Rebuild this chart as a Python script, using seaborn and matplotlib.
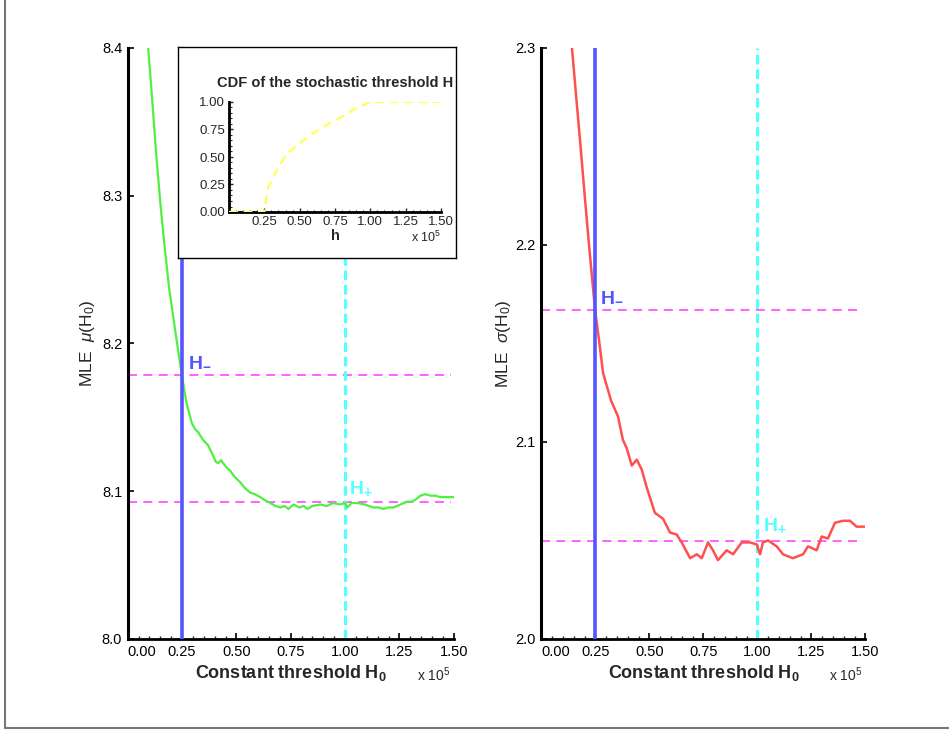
import matplotlib
matplotlib.use("Agg")
import matplotlib.pyplot as plt
from matplotlib.lines import Line2D
from matplotlib.ticker import MultipleLocator
import seaborn as sns

# constant threshold H0 (in units of 1e5) and the MLE of mu
h0_mu = [0.094, 0.11, 0.13, 0.15, 0.17, 0.19, 0.218, 0.25, 0.27, 0.295, 0.31, 0.324,
         0.345, 0.37, 0.39, 0.405, 0.416, 0.43, 0.439, 0.455, 0.471, 0.49, 0.518, 0.54,
         0.564, 0.585, 0.61, 0.63, 0.656, 0.68, 0.702, 0.72, 0.74, 0.762, 0.79, 0.81,
         0.826, 0.85, 0.886, 0.915, 0.946, 0.975, 1.001, 1.01, 1.03, 1.057, 1.09, 1.13,
         1.155, 1.177, 1.2, 1.223, 1.255, 1.287, 1.31, 1.33, 1.347, 1.37, 1.393, 1.415,
         1.439, 1.47, 1.499]
mu_hat = [8.400, 8.370, 8.330, 8.295, 8.265, 8.238, 8.209, 8.178, 8.160, 8.146, 8.142, 8.140,
          8.135, 8.131, 8.125, 8.120, 8.119, 8.121, 8.119, 8.116, 8.114, 8.110, 8.106, 8.102,
          8.099, 8.098, 8.096, 8.094, 8.092, 8.090, 8.089, 8.090, 8.088, 8.091, 8.089, 8.090,
          8.088, 8.090, 8.091, 8.090, 8.092, 8.091, 8.092, 8.089, 8.092, 8.092, 8.091, 8.089,
          8.089, 8.088, 8.089, 8.089, 8.091, 8.093, 8.093, 8.095, 8.097, 8.098, 8.097, 8.097,
          8.096, 8.096, 8.096]

# constant threshold H0 and the MLE of sigma
h0_sigma = [0.141, 0.160, 0.180, 0.200, 0.220, 0.248, 0.266, 0.285, 0.322, 0.354, 0.377, 0.394,
            0.418, 0.441, 0.464, 0.487, 0.525, 0.563, 0.595, 0.626, 0.649, 0.688, 0.719,
            0.742, 0.771, 0.794, 0.817, 0.857, 0.887, 0.927, 0.965, 0.996, 1.012, 1.025,
            1.049, 1.089, 1.118, 1.164, 1.211, 1.234, 1.274, 1.297, 1.326, 1.359, 1.396,
            1.428, 1.459, 1.506]
sigma_hat = [2.300, 2.276, 2.251, 2.225, 2.200, 2.167, 2.152, 2.135, 2.121, 2.113, 2.101, 2.097,
             2.088, 2.091, 2.086, 2.077, 2.064, 2.061, 2.054, 2.053, 2.049, 2.041, 2.043,
             2.041, 2.049, 2.045, 2.040, 2.045, 2.043, 2.049, 2.049, 2.048, 2.043, 2.049,
             2.050, 2.047, 2.043, 2.041, 2.043, 2.047, 2.045, 2.052, 2.051, 2.059, 2.060,
             2.060, 2.057, 2.057]

# CDF of the stochastic threshold H
cdf_h = [0.0, 0.25, 0.26, 0.279, 0.338, 0.409, 0.527, 0.645, 0.764, 0.882, 0.988, 1.0, 1.5]
cdf_val = [0.0, 0.0, 0.10, 0.23, 0.38, 0.53, 0.65, 0.76, 0.84, 0.93, 0.995, 1.0, 1.0]

h_minus, h_plus = 0.25, 1.00
mu_ref = [8.1787, 8.0927]
sigma_ref = [2.167, 2.0497]

GREEN = "#50f040"
RED = "#ff5050"
BLUE = "#5555ff"
CYAN = "#55ffff"
PINK = "#ff55ff"
YELLOW = "#ffff55"

sns.set_style("white")
plt.rcParams["font.family"] = ["Liberation Sans", "DejaVu Sans"]
plt.rcParams["mathtext.fontset"] = "custom"
plt.rcParams["mathtext.rm"] = "Liberation Sans"
plt.rcParams["mathtext.it"] = "Liberation Sans:italic"
plt.rcParams["mathtext.bf"] = "Liberation Sans:bold"

fig = plt.figure(figsize=(9.49, 7.31), dpi=100)
ax1 = fig.add_axes([0.1346, 0.1259, 0.3435, 0.8085])
ax2 = fig.add_axes([0.5706, 0.1259, 0.3414, 0.8085])


def style_main(ax, ylim, yticks, ylabel):
    ax.set_xlim(0, 1.5)
    ax.set_ylim(*ylim)
    xt = [0, 0.25, 0.5, 0.75, 1.0, 1.25, 1.5]
    ax.set_xticks(xt, labels=["%.2f" % v for v in xt])
    ax.get_xticklabels()[0].set_horizontalalignment("left")
    ax.set_yticks(yticks, labels=["%.1f" % v for v in yticks])
    ax.xaxis.set_minor_locator(MultipleLocator(0.05))
    ax.tick_params(direction="in", length=4, width=1.2, labelsize=10.5, pad=4,
                   colors="black", bottom=True, left=True)
    ax.tick_params(which="minor", axis="x", direction="in", length=2.5, width=1, bottom=True)
    for s in ["top", "right"]:
        ax.spines[s].set_visible(False)
    ax.spines["left"].set_linewidth(2.2)
    ax.spines["bottom"].set_linewidth(2.0)
    ax.spines["left"].set_color("black")
    ax.spines["bottom"].set_color("black")
    ax.set_xlabel(r"Constant threshold $\mathbf{H_0}$", fontsize=13, fontweight="bold")
    ax.xaxis.set_label_coords(0.5, -0.04)
    ax.set_ylabel(ylabel, fontsize=12.5)
    ax.text(0.99, -0.045, r"x $10^5$", transform=ax.transAxes, ha="right", va="top",
            fontsize=10)


# left panel: mu
sns.lineplot(x=h0_mu, y=mu_hat, ax=ax1, color=GREEN, lw=1.6, zorder=3)
ax1.hlines(mu_ref, 0, 1.487, colors=PINK, lw=1.3, linestyles=[(0, (5, 3.5))], zorder=2)
ax1.axvline(h_minus, color=BLUE, lw=2.6, zorder=4)
ax1.axvline(h_plus, color=CYAN, lw=2.3, ls=(0, (3, 1.5)), zorder=2)
ax1.text(0.278, 8.188, r"$\mathbf{H_{-}}$", color=BLUE, fontsize=14, va="center")
ax1.text(1.02, 8.102, r"$\mathbf{H_{+}}$", color=CYAN, fontsize=14, va="center")
style_main(ax1, (8.0, 8.4), [8.0, 8.1, 8.2, 8.3, 8.4], r"MLE  $\mu(\mathrm{H_0})$")
ax1.yaxis.set_label_coords(-0.094, 0.5)

# right panel: sigma
sns.lineplot(x=h0_sigma, y=sigma_hat, ax=ax2, color=RED, lw=1.8, zorder=3)
ax2.hlines(sigma_ref, 0, 1.488, colors=PINK, lw=1.3, linestyles=[(0, (5, 3.5))], zorder=2)
ax2.axvline(h_minus, color=BLUE, lw=2.6, zorder=4)
ax2.axvline(h_plus, color=CYAN, lw=2.3, ls=(0, (3, 1.5)), zorder=2)
ax2.text(0.272, 2.174, r"$\mathbf{H_{-}}$", color=BLUE, fontsize=14, va="center")
ax2.text(1.025, 2.058, r"$\mathbf{H_{+}}$", color=CYAN, fontsize=14, va="center")
style_main(ax2, (2.0, 2.3), [2.0, 2.1, 2.2, 2.3], r"MLE  $\sigma(\mathrm{H_0})$")
ax2.yaxis.set_label_coords(-0.087, 0.5)

# inset box with the CDF
box = fig.add_axes([178 / 949, 1 - 258 / 731, 278 / 949, 211 / 731], zorder=5)
box.set_facecolor("white")
box.set_xticks([])
box.set_yticks([])
for s in box.spines.values():
    s.set_linewidth(1.0)
    s.set_color("black")

ins = fig.add_axes([229 / 949, 1 - 212 / 731, 212 / 949, 110 / 731], zorder=6)
ins.patch.set_alpha(0)
sns.lineplot(x=cdf_h, y=cdf_val, ax=ins, color=YELLOW, lw=1.6,
             linestyle=(0, (4, 2.5)), zorder=3)
ins.set_xlim(0, 1.5)
ins.set_ylim(0, 1.0)
ixt = [0.25, 0.5, 0.75, 1.0, 1.25, 1.5]
ins.set_xticks(ixt, labels=["%.2f" % v for v in ixt])
iyt = [0, 0.25, 0.5, 0.75, 1.0]
ins.set_yticks(iyt, labels=["%.2f" % v for v in iyt])
ins.xaxis.set_minor_locator(MultipleLocator(0.05))
ins.yaxis.set_minor_locator(MultipleLocator(0.05))
ins.tick_params(direction="in", length=3, width=1, labelsize=9.5, pad=3,
                bottom=True, left=True)
ins.tick_params(which="minor", direction="in", length=1.8, width=0.8, bottom=True, left=True)
for s in ["top", "right"]:
    ins.spines[s].set_visible(False)
ins.spines["left"].set_linewidth(2.0)
ins.spines["bottom"].set_linewidth(2.0)
ins.spines["left"].set_color("black")
ins.spines["bottom"].set_color("black")
ins.set_title("CDF of the stochastic threshold H", fontsize=10.5, fontweight="bold", pad=11)
ins.set_xlabel("h", fontsize=10.5, fontweight="bold")
ins.xaxis.set_label_coords(0.5, -0.15)
ins.text(1.0, -0.16, r"x $10^5$", transform=ins.transAxes, ha="right", va="top", fontsize=9)

# grey frame on the left and bottom of the page
fig.add_artist(Line2D([5 / 949, 5 / 949], [1 - 728 / 731, 1.0], color="#777777", lw=1.5))
fig.add_artist(Line2D([5 / 949, 1.0], [1 - 728 / 731, 1 - 728 / 731], color="#777777", lw=1.5))

fig.savefig("out.png", dpi=100)
